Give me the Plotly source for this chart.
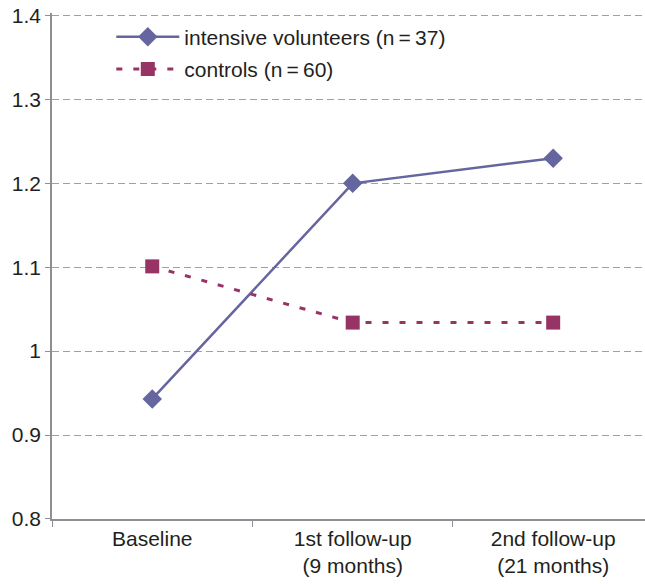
import plotly.graph_objects as go

categories = ["Baseline", "1st follow-up<br>(9 months)", "2nd follow-up<br>(21 months)"]
intensive = [0.943, 1.2, 1.23]
controls = [1.101, 1.034, 1.034]
y_ticks = [0.8, 0.9, 1.0, 1.1, 1.2, 1.3, 1.4]
y_tick_labels = ["0.8", "0.9", "1", "1.1", "1.2", "1.3", "1.4"]

fig = go.Figure()
fig.add_trace(go.Scatter(
    x=categories, y=intensive, mode="lines+markers",
    name="intensive volunteers (n\u2009=\u200937)", legendgroup="a",
    line=dict(color="#65659f", width=2.5),
    marker=dict(symbol="diamond", size=15, color="#65659f"),
))
fig.add_trace(go.Scatter(
    x=categories, y=controls, mode="lines+markers",
    name="controls (n\u2009=\u200960)", legendgroup="b",
    line=dict(color="#983366", width=3, dash="6px,11px"),
    marker=dict(symbol="square", size=14, color="#983366"),
))

font_family = "Liberation Sans, Arial, sans-serif"
fig.update_layout(
    width=645, height=584,
    margin=dict(l=52, r=0, t=13, b=65),
    paper_bgcolor="white", plot_bgcolor="white",
    font=dict(family=font_family, size=21, color="#231f20"),
    showlegend=True,
    legend=dict(
        x=0.1, y=0.993, xanchor="left", yanchor="top",
        bgcolor="rgba(0,0,0,0)", font=dict(size=21),
        itemwidth=63, tracegroupgap=2,
    ),
    xaxis=dict(
        type="category", range=[-0.5, 2.458],
        showline=True, linecolor="#8e8e94", linewidth=1.5,
        ticks="outside", tickson="boundaries", ticklen=6, tickcolor="#8e8e94",
        showgrid=False, tickfont=dict(size=21),
    ),
    yaxis=dict(
        range=[0.7999, 1.403], tickvals=y_ticks, ticktext=y_tick_labels,
        showline=True, linecolor="#8e8e94", linewidth=1.5,
        ticks="outside", ticklen=5, tickcolor="#8e8e94",
        showgrid=True, gridcolor="#a0a0a4", gridwidth=1, griddash="7px,4px",
        zeroline=False, tickfont=dict(size=21),
    ),
)
fig.write_html(
    "out.html",
    config={"displayModeBar": False},
    post_script="document.body.style.margin='0px';document.body.style.overflow='hidden';",
)
